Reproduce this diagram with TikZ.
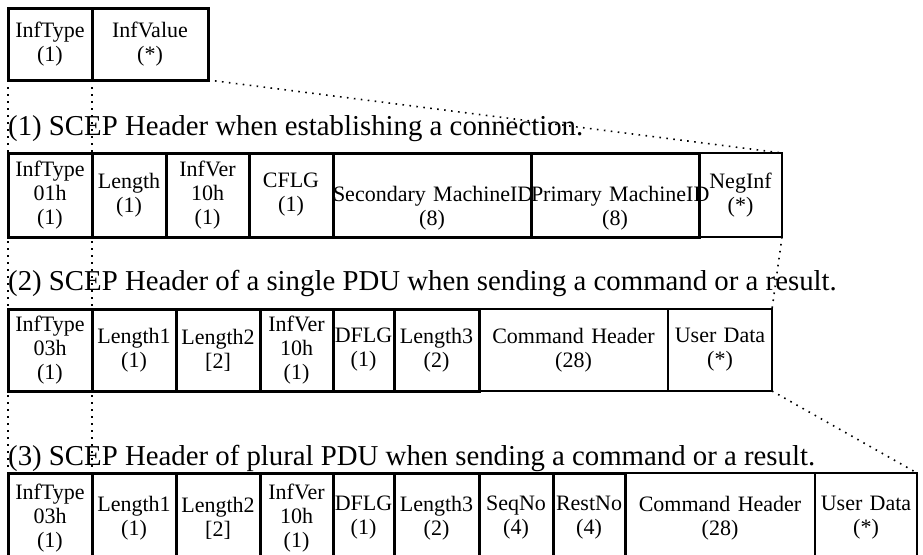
\documentclass[tikz,border=0pt]{standalone}
\usepackage{fontspec}
\setmainfont{Liberation Serif}
\tikzset{
  cell/.style={draw, inner sep=0pt, outer sep=0pt, align=center,
    font=\fontsize{22}{24}\selectfont},
  bold/.style={line width=3pt},
  lite/.style={line width=1.8pt},
  wd/.style={minimum width=#1pt, text width=#1pt},
  ht/.style={minimum height=#1pt},
  guide/.style={line width=1.6pt, dash pattern=on 1.6pt off 5.4pt},
  caption/.style={anchor=base west, inner sep=0pt,
    font=\fontsize{28.8}{32}\selectfont},
}
\begin{document}
\begin{tikzpicture}[x=1pt,y=-1pt]
      \useasboundingbox (0,0) rectangle (923,554);
      \clip (0,0) rectangle (923,554);
      % generic field
      \node[cell,bold,wd=84,ht=72] (inftype) at (50,44) {InfType\\(1)};
      \node[cell,bold,wd=116,ht=72] (infvalue) at (150,44) {InfValue\\(*)};
      % (1)
      \node[caption] (cap1) at (8,135) {(1) SCEP Header when establishing a connection.};
      \node[cell,lite,wd=83,ht=84] (c1neg) at (740.5,195) {NegInf\\(*)};
      \node[cell,bold,wd=84,ht=84] (c1type) at (50,195) {InfType\\01h\\(1)};
      \node[cell,bold,wd=74,ht=84] (c1len) at (129,195) {Length\\(1)};
      \node[cell,bold,wd=83,ht=84] (c1ver) at (207.5,195) {InfVer\\10h\\(1)};
      \node[cell,bold,wd=84,ht=84] (c1cflg) at (291,195) {CFLG\\(1)};
      \node[cell,bold,wd=198,ht=84] (c1sec) at (432,195) {\rule{0pt}{42pt}\mbox{Secondary MachineID}\\(8)};
      \node[cell,bold,wd=168,ht=84] (c1prim) at (615,195) {\rule{0pt}{42pt}\mbox{Primary MachineID}\\(8)};
      % (2)
      \node[caption] (cap2) at (8,290) {(2) SCEP Header of a single PDU when sending a command or a result.};
      \node[cell,lite,wd=189,ht=82] (c2cmd) at (573.5,350) {Command Header\\(28)};
      \node[cell,lite,wd=104,ht=82] (c2user) at (720,350) {User Data\\(*)};
      \node[cell,bold,wd=84,ht=82] (c2type) at (50,350) {InfType\\03h\\(1)};
      \node[cell,bold,wd=84,ht=82] (c2len1) at (134,350) {Length1\\(1)};
      \node[cell,bold,wd=84,ht=82] (c2len2) at (218,350) {Length2\\{}[2]};
      \node[cell,bold,wd=73,ht=82] (c2ver) at (296.5,350) {InfVer\\10h\\(1)};
      \node[cell,bold,wd=61,ht=82] (c2dflg) at (363.5,350) {DFLG\\(1)};
      \node[cell,bold,wd=85,ht=82] (c2len3) at (436.5,350) {Length3\\(2)};
      % (3)
      \node[caption] (cap3) at (8,465) {(3) SCEP Header of plural PDU when sending a command or a result.};
      \node[cell,lite,wd=190,ht=90] (c3cmd) at (720,518) {Command Header\\(28)};
      \node[cell,lite,wd=102,ht=90] (c3user) at (866,518) {User Data\\(*)};
      \node[cell,bold,wd=84,ht=90] (c3type) at (50,518) {InfType\\03h\\(1)};
      \node[cell,bold,wd=84,ht=90] (c3len1) at (134,518) {Length1\\(1)};
      \node[cell,bold,wd=84,ht=90] (c3len2) at (218,518) {Length2\\{}[2]};
      \node[cell,bold,wd=73,ht=90] (c3ver) at (296.5,518) {InfVer\\10h\\(1)};
      \node[cell,bold,wd=61,ht=90] (c3dflg) at (363.5,518) {DFLG\\(1)};
      \node[cell,bold,wd=85,ht=90] (c3len3) at (436.5,518) {Length3\\(2)};
      \node[cell,bold,wd=74,ht=90] (c3seq) at (516,518) {SeqNo\\(4)};
      \node[cell,bold,wd=72,ht=90] (c3rest) at (589,518) {RestNo\\(4)};
      \begin{scope}[guide]
        \draw (inftype.south west) -- (c3type.north west);
        \draw (inftype.south east) -- (c3type.north east);
        \draw (infvalue.south east) -- (c1neg.north east);
        \draw (c1neg.south east) -- (c2user.north east);
        \draw (c2user.south east) -- (c3user.north east);
      \end{scope}
    \end{tikzpicture}
\end{document}
